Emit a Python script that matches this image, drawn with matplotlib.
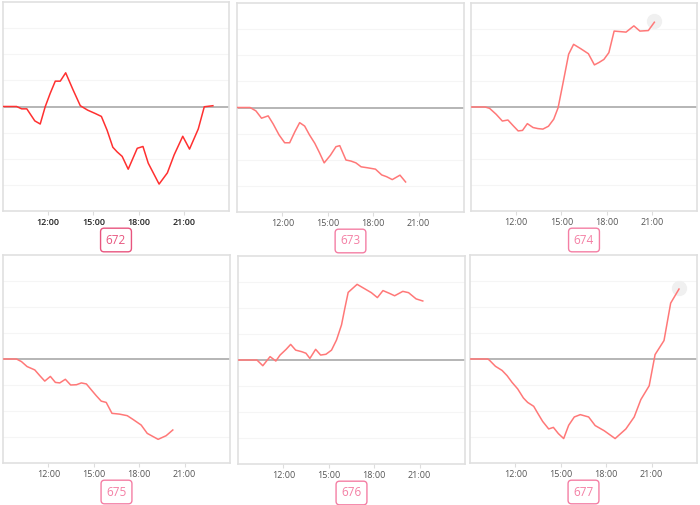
import matplotlib
matplotlib.use("Agg")
import matplotlib.pyplot as plt

# uurwaarden per sensor (tijd in uren, waarde in rasterstappen)
t672 = [9.0, 9.9, 10.24, 10.58, 11.11, 11.47, 11.8, 12.13, 12.47, 12.8, 13.16, 13.64, 14.13, 14.62,
        15.13, 15.53, 15.91, 16.29, 16.58, 16.91, 17.31, 17.91, 18.29, 18.64, 19.36, 19.91, 20.36,
        20.93, 21.38, 21.96, 22.36, 22.93]
v672 = [0, 0, -0.09, -0.09, -0.55, -0.67, -0.01, 0.5, 0.97, 0.97, 1.29, 0.65, 0.03, -0.14,
        -0.27, -0.38, -0.91, -1.56, -1.74, -1.91, -2.4, -1.6, -1.53, -2.17, -2.97, -2.54, -1.85,
        -1.14, -1.63, -0.86, -0.01, 0.03]

t673 = [9.0, 9.86, 10.25, 10.62, 11.06, 11.39, 11.78, 12.15, 12.48, 12.83, 13.14, 13.47, 13.79,
        14.14, 14.45, 14.76, 15.17, 15.54, 15.79, 16.2, 16.53, 16.86, 17.2, 17.65, 18.15, 18.56,
        18.89, 19.26, 19.77, 20.14]
v673 = [0, 0, -0.13, -0.41, -0.32, -0.63, -1.05, -1.35, -1.35, -0.92, -0.58, -0.71, -1.05,
        -1.37, -1.73, -2.12, -1.83, -1.5, -1.46, -2.01, -2.05, -2.12, -2.27, -2.31, -2.36, -2.58,
        -2.65, -2.76, -2.59, -2.85]

t674 = [9.0, 9.94, 10.23, 10.67, 11.08, 11.45, 11.8, 12.13, 12.42, 12.74, 13.12, 13.44, 13.77,
        14.14, 14.49, 14.78, 15.09, 15.48, 15.81, 16.29, 16.79, 17.19, 17.49, 17.82, 18.15, 18.5,
        19.29, 19.81, 20.21, 20.77, 21.17]
v674 = [0, 0, -0.05, -0.28, -0.54, -0.5, -0.72, -0.92, -0.9, -0.64, -0.79, -0.83, -0.85,
        -0.74, -0.47, -0.03, 0.87, 2.03, 2.41, 2.24, 2.05, 1.62, 1.71, 1.83, 2.09, 2.92,
        2.88, 3.12, 2.92, 2.94, 3.26]

t675 = [9.0, 9.89, 10.22, 10.59, 11.1, 11.43, 11.76, 12.13, 12.46, 12.75, 13.12, 13.47, 13.85,
        14.18, 14.51, 14.84, 15.16, 15.49, 15.82, 16.2, 16.7, 17.21, 17.58, 18.13, 18.53, 19.25,
        19.78, 20.22]
v675 = [0, 0, -0.1, -0.29, -0.42, -0.64, -0.85, -0.67, -0.9, -0.92, -0.78, -1.0, -0.99,
        -0.92, -0.96, -1.19, -1.41, -1.62, -1.67, -2.09, -2.12, -2.18, -2.32, -2.54, -2.86, -3.09,
        -2.95, -2.73]

t676 = [9.0, 10.25, 10.64, 11.12, 11.5, 11.78, 12.18, 12.48, 12.81, 13.21, 13.49, 13.75, 14.13,
        14.46, 14.81, 15.18, 15.51, 15.84, 16.06, 16.28, 16.87, 17.37, 17.81, 18.21, 18.58, 19.02,
        19.35, 19.89, 20.27, 20.77, 21.21]
v676 = [0, 0, -0.22, 0.13, -0.04, 0.19, 0.41, 0.6, 0.38, 0.32, 0.26, 0.06, 0.41,
        0.19, 0.22, 0.38, 0.77, 1.35, 1.99, 2.6, 2.91, 2.74, 2.59, 2.4, 2.67, 2.56,
        2.47, 2.64, 2.59, 2.35, 2.27]

t677 = [9.0, 10.18, 10.29, 10.68, 11.12, 11.45, 11.78, 12.15, 12.53, 12.81, 13.21, 13.47, 13.8,
        14.2, 14.51, 14.84, 15.19, 15.52, 15.89, 16.29, 16.84, 17.27, 17.87, 18.59, 19.3, 19.85,
        20.29, 20.84, 21.23, 21.82, 22.26, 22.81]
v677 = [0, 0, -0.05, -0.28, -0.44, -0.64, -0.9, -1.15, -1.5, -1.67, -1.82, -2.08, -2.4,
        -2.69, -2.63, -2.87, -3.06, -2.55, -2.23, -2.14, -2.23, -2.56, -2.76, -3.06, -2.69, -2.23,
        -1.56, -1.03, 0.17, 0.71, 2.15, 2.69]

namen = ["672", "673", "674", "675", "676", "677"]
tijden = [t672, t673, t674, t675, t676, t677]
waarden = [v672, v673, v674, v675, v676, v677]
xticks = [12, 15, 18, 21]
xlabels = ["12:00", "15:00", "18:00", "21:00"]

# plek van elk paneel in pixels: links, boven, rechts, onder
vakken = [(3, 2, 229, 211), (237, 3, 464, 212), (471, 3, 697, 211),
          (3, 255, 230, 463), (238, 256, 465, 464), (470, 255, 697, 463)]

W, H = 700, 505
fig = plt.figure(figsize=(7, 5.05), dpi=100)

for i in range(6):
    l, b_top, r, b_bot = vakken[i]
    ax = fig.add_axes([l / W, 1 - b_bot / H, (r - l) / W, (b_bot - b_top) / H])
    ax.set_xlim(9, 24)
    ax.set_ylim(-4, 4)
    for g in [-3, -2, -1, 1, 2, 3]:
        ax.axhline(g, color="#f5f5f5", lw=0.8, zorder=0)
    ax.axhline(0, color="#b0b0b0", lw=1.3, zorder=1)
    if i == 0:
        kleur, dikte, tkleur, lkleur, gewicht = "#ff3030", 1.1, "#222222", "#e8557f", "semibold"
    else:
        kleur, dikte, tkleur, lkleur, gewicht = "#ff7878", 1.1, "#555555", "#f47fa4", "normal"
    if i in (2, 5):
        ax.plot(tijden[i][-1], waarden[i][-1] + 0.05, "o", ms=10, color="#f0f0f0", zorder=2)
    ax.plot(tijden[i], waarden[i], color=kleur, lw=dikte, zorder=3)
    ax.set_xticks(xticks)
    ax.set_xticklabels(xlabels, fontsize=6.5, color=tkleur, family="Open Sans", weight=gewicht)
    ax.tick_params(axis="x", length=3, color="#dddddd", pad=2)
    ax.set_yticks([])
    for s in ax.spines.values():
        s.set_color("#e0e0e0")
        s.set_linewidth(1.2)
    fig.text((l + r) / 2 / W, 1 - (b_bot + 29) / H, namen[i], ha="center", va="center",
             fontsize=8.5, color=lkleur, family="Open Sans",
             bbox=dict(boxstyle="round,pad=0.45,rounding_size=0.3", fc="white", ec=lkleur, lw=1))

fig.savefig("out.png", dpi=100)
